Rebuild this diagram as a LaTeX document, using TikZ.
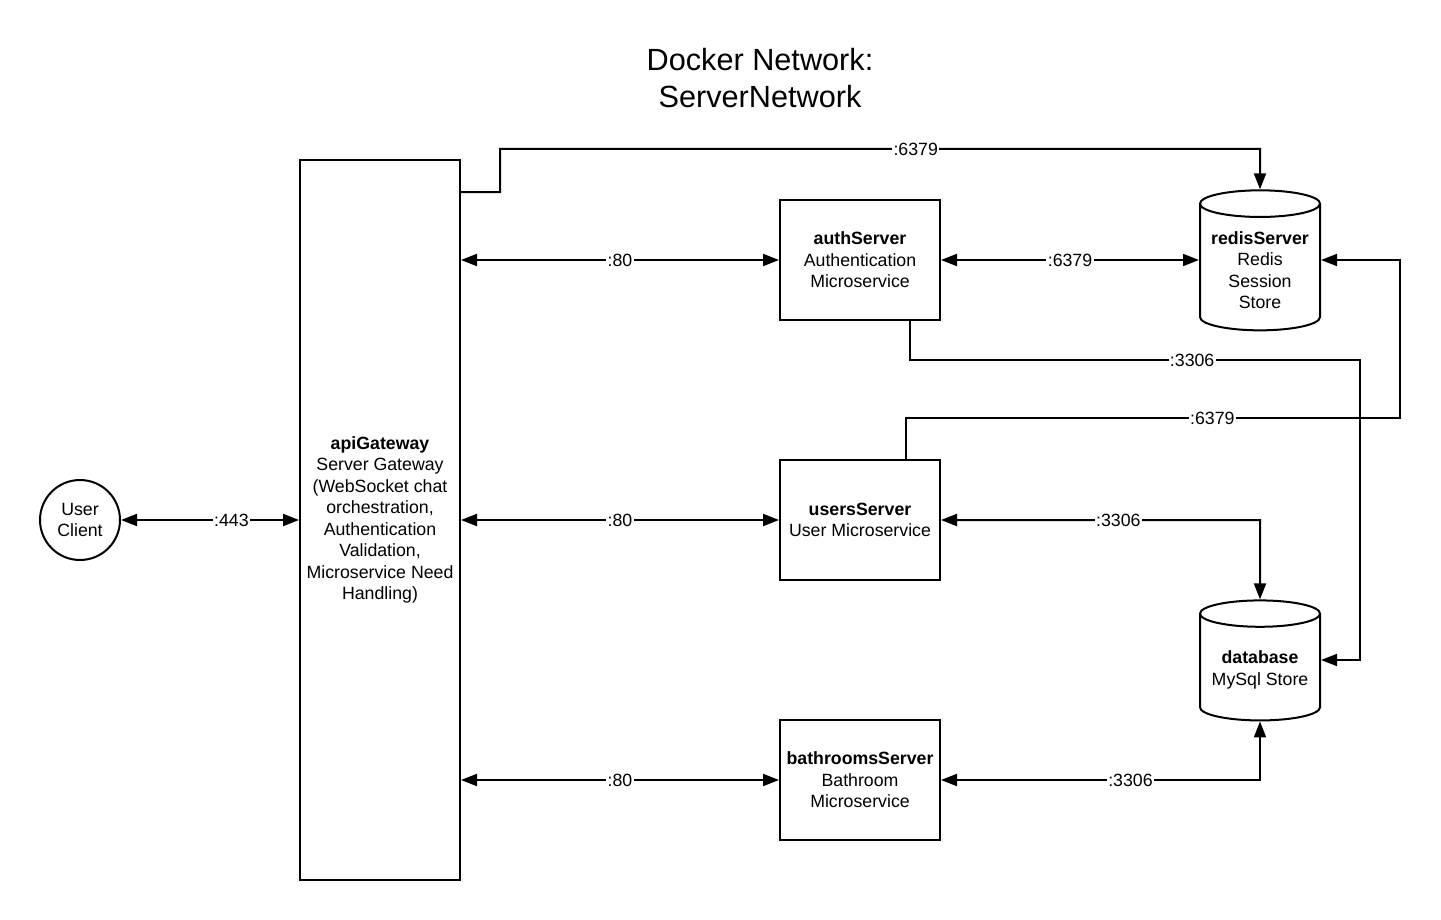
\documentclass[tikz,border=0pt]{standalone}
\usepackage{fontspec}
\setmainfont{Liberation Sans}
\usetikzlibrary{shapes.geometric,arrows.meta}
\tikzstyle{connector} = [line width=1.5pt, -{Triangle[length=12pt,width=9pt]}]
\tikzstyle{twoway} = [connector, {Triangle[length=12pt,width=9pt]}-{Triangle[length=12pt,width=9pt]}]
\tikzstyle{port} = [fill=white, inner sep=1pt]
\tikzstyle{service} = [draw, line width=1.5pt, minimum width=120pt, minimum height=90pt, align=center]
\tikzstyle{store} = [draw, line width=1.5pt, cylinder, shape border rotate=90, aspect=0.25, minimum width=90pt, align=center]

\begin{document}
\begin{tikzpicture}[x=0.75pt, y=-0.75pt, font=\fontsize{13.3}{16.1}\selectfont]
\useasboundingbox (0,0) rectangle (1441,920);

\node (title) at (760,78) [align=center, font=\fontsize{23}{27.75}\selectfont] {Docker Network:\\ServerNetwork};

\node (user) at (80,520) [circle, draw, line width=1.5pt, minimum size=60pt, inner sep=0pt, align=center] {User\\Client};
\node (api) at (380,520) [service, minimum height=540pt] {\textbf{apiGateway}\\Server Gateway\\(WebSocket chat\\orchestration,\\Authentication\\Validation,\\Microservice Need\\Handling)};
\node (auth) at (860,260) [service] {\textbf{authServer}\\Authentication\\Microservice};
\node (users) at (860,520) [service] {\textbf{usersServer}\\User Microservice};
\node (bath) at (860,780) [service] {\textbf{bathroomsServer}\\Bathroom\\Microservice};
\node (redis) at (1260,270) [store, minimum height=105pt] {\textbf{redisServer}\\Redis\\Session\\Store};
\node (db) at (1260,670) [store, minimum height=90pt] {\textbf{database}\\MySql Store};

\draw [twoway] (user) -- node[port, pos=0.62] {:443} (api.west |- user.east);
\draw [twoway] (api.east |- auth.west) -- node[port] {:80} (auth.west);
\draw [twoway] (api.east |- users.west) -- node[port] {:80} (users.west);
\draw [twoway] (api.east |- bath.west) -- node[port] {:80} (bath.west);
\draw [twoway] (auth.east) -- node[port] {:6379} (redis.west |- auth.east);

\draw [connector] (api.east |- 0,192) -- (500,192) -- (500,149) -- node[port, pos=0.547] {:6379} (1260,149) -- (redis.north);
\draw [connector] (auth.south -| 910,0) -- (910,360) -- node[port, pos=0.627] {:3306} (1360,360) -- (1360,660) -- (db.east |- 0,660);
\draw [connector] (users.north -| 906,0) -- (906,418) -- node[port, pos=0.62] {:6379} (1400,418) -- (1400,260) -- (redis.east |- 0,260);
\draw [twoway] (users.east) -- node[port, pos=0.556] {:3306} (1260,520) -- (db.north);
\draw [twoway] (bath.east) -- node[port, pos=0.594] {:3306} (1260,780) -- (db.south);
\end{tikzpicture}
\end{document}
